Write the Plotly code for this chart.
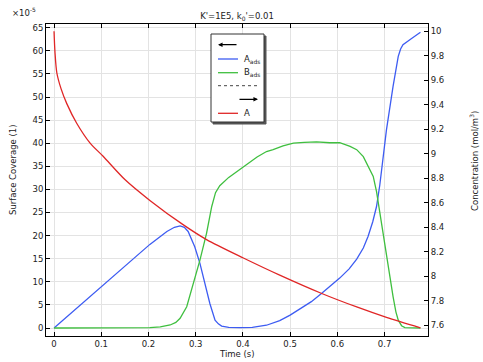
import plotly.graph_objects as go

# ---- data ----
t_A = [0, 0.002, 0.006, 0.015, 0.027, 0.048, 0.076, 0.104, 0.15, 0.203, 0.274,
       0.323, 0.401, 0.478, 0.567, 0.641, 0.704, 0.776]
c_A = [10, 9.83, 9.66, 9.53, 9.41, 9.25, 9.09, 8.98, 8.79, 8.62, 8.42,
       8.30, 8.15, 8.01, 7.86, 7.75, 7.665, 7.58]

t_Aads = [0, 0.05, 0.1, 0.15, 0.203, 0.239, 0.255, 0.267, 0.276, 0.284, 0.298,
          0.309, 0.320, 0.330, 0.341, 0.348, 0.355, 0.37, 0.394, 0.42, 0.45,
          0.478, 0.50, 0.521, 0.545, 0.567, 0.585, 0.605, 0.625, 0.641, 0.655,
          0.665, 0.675, 0.683, 0.690, 0.704, 0.718, 0.729, 0.734, 0.739, 0.755, 0.776]
v_Aads = [0, 4.5, 8.9, 13.4, 18.1, 20.9, 21.8, 22.1, 21.8, 20.9, 17.6,
          14.0, 9.7, 5.3, 1.7, 0.9, 0.43, 0.15, 0.07, 0.15, 0.6,
          1.6, 2.8, 4.1, 5.7, 7.5, 9.0, 10.8, 12.8, 14.9, 17.3,
          19.8, 23.0, 26.3, 31.0, 42.9, 52.3, 58.8, 60.4, 61.3, 62.5, 64.0]

t_Bads = [0, 0.15, 0.203, 0.225, 0.246, 0.258, 0.267, 0.281, 0.295, 0.309, 0.323,
          0.334, 0.342, 0.351, 0.37, 0.401, 0.43, 0.45, 0.464, 0.485, 0.507,
          0.53, 0.556, 0.584, 0.605, 0.627, 0.641, 0.655, 0.662, 0.670, 0.676,
          0.683, 0.690, 0.704, 0.718, 0.724, 0.729, 0.736, 0.743, 0.776]
v_Bads = [0, 0, 0.07, 0.25, 0.65, 1.2, 2.1, 4.6, 9.7, 14.7, 20.5,
          26.3, 29.3, 30.8, 32.6, 34.9, 37.0, 38.2, 38.6, 39.4, 40.0,
          40.2, 40.3, 40.1, 40.1, 39.3, 38.6, 37.1, 35.7, 34.3, 32.8,
          29.5, 24.8, 16.2, 6.8, 3.5, 1.7, 0.5, 0.07, 0]

BLUE = "#3d5cf2"
GREEN = "#3fbf3f"
RED = "#e02626"
FONT = "DejaVu Sans"
FS = 8.5

W, H = 483, 362
L, R, T, B = 46, 55, 24, 26
PW, PH = W - L - R, H - T - B


def px(x):
    return (x - L) / PW


def py(y):
    return (H - B - y) / PH


def label(fig, text, x, y, angle=0, xanchor="center"):
    fig.add_annotation(text=text, xref="paper", yref="paper", x=px(x), y=py(y),
                       xanchor=xanchor, yanchor="middle", textangle=angle,
                       showarrow=False, font=dict(size=FS, family=FONT, color="#222"))


fig = go.Figure()
fig.add_trace(go.Scatter(x=t_Aads, y=v_Aads, mode="lines", line=dict(color=BLUE, width=1.3),
                         showlegend=False, hoverinfo="skip"))
fig.add_trace(go.Scatter(x=t_Bads, y=v_Bads, mode="lines", line=dict(color=GREEN, width=1.3),
                         showlegend=False, hoverinfo="skip"))
fig.add_trace(go.Scatter(x=t_A, y=c_A, mode="lines",
                         line=dict(color=RED, width=1.3, shape="spline", smoothing=0.8),
                         yaxis="y2", showlegend=False, hoverinfo="skip"))

axis_common = dict(showline=True, linecolor="black", linewidth=1, ticks="inside",
                   ticklen=4, tickcolor="black", tickfont=dict(size=FS, family=FONT, color="#222"),
                   zeroline=False, automargin=False)

fig.update_layout(
    width=W, height=H,
    margin=dict(l=L, r=R, t=T, b=B, autoexpand=False),
    paper_bgcolor="white", plot_bgcolor="white",
    font=dict(family=FONT, size=FS, color="#222"),
    title=dict(text="K'=1E5, k<sub>0</sub>'=0.01", x=0.5 * (L + W - R) / W, xanchor="center",
               y=1 - 16 / H, yanchor="middle", font=dict(size=FS, family=FONT), automargin=False),
    xaxis=dict(range=[-0.017, 0.792], dtick=0.1, tick0=0, mirror="ticks",
               showgrid=True, gridcolor="#e3e3e3", gridwidth=1, **axis_common),
    yaxis=dict(range=[-1.73, 65.8], dtick=5, tick0=0, showgrid=True, gridcolor="#e3e3e3",
               gridwidth=1, **axis_common),
    yaxis2=dict(range=[7.513, 10.06], dtick=0.2, tick0=7.6, overlaying="y", side="right",
                showgrid=False, **axis_common),
)

# axis titles
label(fig, "Time (s)", 237, 354)
label(fig, "Surface Coverage (1)", 13, 170, angle=-90)
label(fig, "Concentration (mol/m<sup>3</sup>)", 474, 161, angle=-90)
label(fig, "×10<sup>-5</sup>", 24, 12)

# legend box (COMSOL style, with shadow)
fig.add_shape(type="rect", xref="paper", yref="paper", x0=px(213), x1=px(266), y0=py(124), y1=py(36),
              line=dict(color="#555", width=1), fillcolor="#555")
fig.add_shape(type="rect", xref="paper", yref="paper", x0=px(211), x1=px(264), y0=py(122), y1=py(34),
              line=dict(color="#333", width=1), fillcolor="white")

# left arrow
fig.add_annotation(x=px(218), y=py(44.7), xref="paper", yref="paper", ax=20, ay=0, text="",
                   showarrow=True, arrowhead=2, arrowsize=0.7, arrowwidth=1.3, arrowcolor="black")
# legend lines
for yy, col, name in [(59, BLUE, "A<sub>ads</sub>"), (72.7, GREEN, "B<sub>ads</sub>"), (113.3, RED, "A")]:
    fig.add_shape(type="line", xref="paper", yref="paper", x0=px(218), x1=px(238), y0=py(yy), y1=py(yy),
                  line=dict(color=col, width=1.3))
    label(fig, name, 242, yy, xanchor="left")
# dotted separator
fig.add_shape(type="line", xref="paper", yref="paper", x0=px(218), x1=px(259), y0=py(85.7), y1=py(85.7),
              line=dict(color="#444", width=1, dash="dot"))
# right arrow
fig.add_annotation(x=px(258), y=py(99.3), xref="paper", yref="paper", ax=-20, ay=0, text="",
                   showarrow=True, arrowhead=2, arrowsize=0.7, arrowwidth=1.3, arrowcolor="black")

fig.write_html("out.html", config={"displayModeBar": False},
               post_script="document.body.style.margin='0px';")
